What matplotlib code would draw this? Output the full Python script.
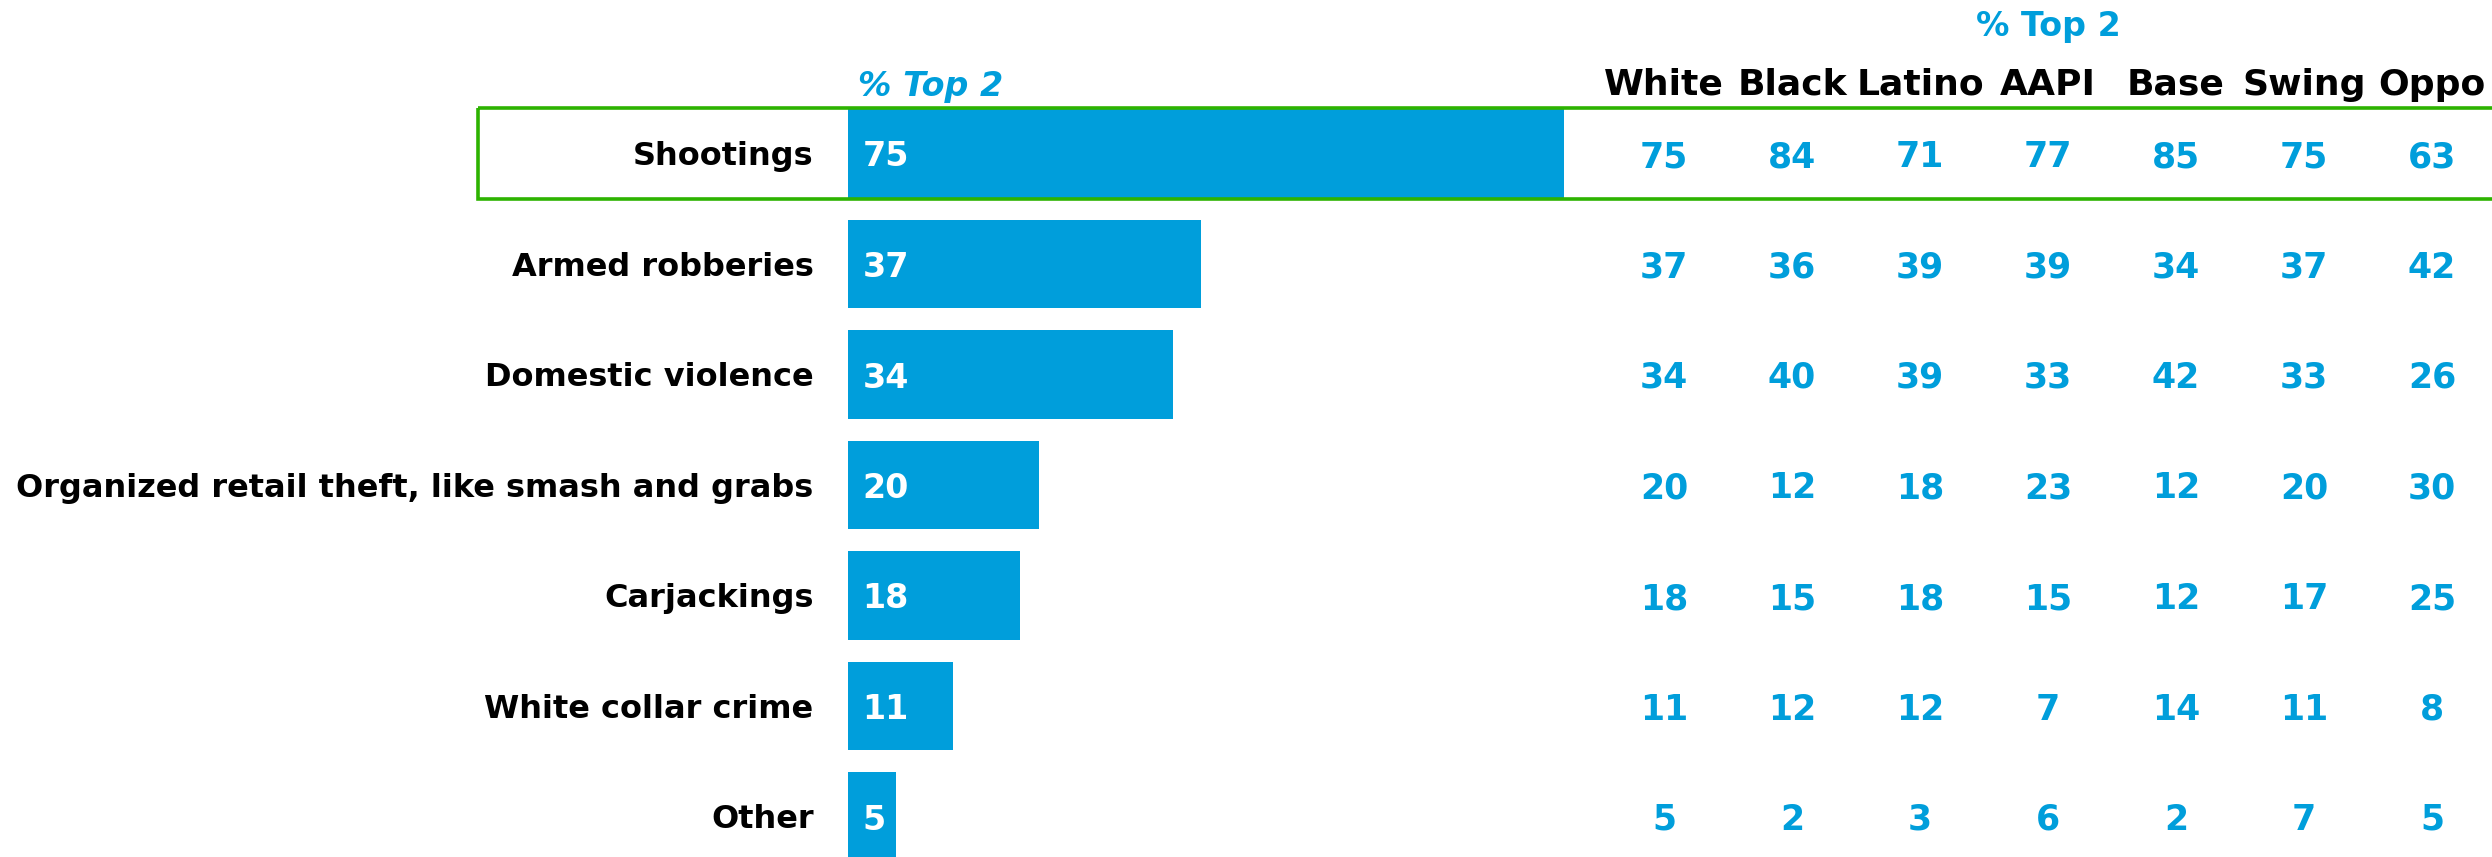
import matplotlib
matplotlib.use("Agg")
import matplotlib.pyplot as plt
import matplotlib.transforms as mtransforms
from matplotlib.patches import Rectangle

# data
categories = ["Shootings", "Armed robberies", "Domestic violence",
              "Organized retail theft, like smash and grabs", "Carjackings",
              "White collar crime", "Other"]
top2 = [75, 37, 34, 20, 18, 11, 5]
groups = ["White", "Black", "Latino", "AAPI", "Base", "Swing", "Oppo"]
white = [75, 37, 34, 20, 18, 11, 5]
black = [84, 36, 40, 12, 15, 12, 2]
latino = [71, 39, 39, 18, 18, 12, 3]
aapi = [77, 39, 33, 23, 15, 7, 6]
base = [85, 34, 42, 12, 12, 14, 2]
swing = [75, 37, 33, 20, 17, 11, 7]
oppo = [63, 42, 26, 30, 25, 8, 5]
table = [white, black, latino, aapi, base, swing, oppo]

BLUE = "#009EDB"
GREEN = "#2DB300"
plt.rcParams["font.family"] = ["DejaVu Sans"]

fig = plt.figure(figsize=(24.92, 8.57), dpi=100)
ax = fig.add_axes([0, 0, 1, 1])
ax.axis("off")

# scale: ~9.55 px per unit, bars start at x=848 px; rows 110.5 px apart
ax.set_xlim(-848 / 9.55, (2492 - 848) / 9.55)
ax.set_ylim((857 - 153.5) / 110.5, -153.5 / 110.5)

rows = list(range(len(categories)))
ax.barh(rows, top2, height=0.805, color=BLUE, left=0)

for i, (cat, v) in enumerate(zip(categories, top2)):
    ax.text(-3.6, i, cat, ha="right", va="center_baseline",
            fontsize=23, fontweight="bold", color="black")
    ax.text(1.5, i, str(v), ha="left", va="center_baseline",
            fontsize=24, fontweight="bold", color="white")

# side table
trans = mtransforms.blended_transform_factory(ax.transAxes, ax.transData)
col_x = [(1664 + 128 * j) / 2492 for j in range(len(groups))]
for j, (g, vals) in enumerate(zip(groups, table)):
    ax.text(col_x[j], -0.53, g, transform=trans, ha="center", va="baseline",
            fontsize=26, fontweight="bold", color="black")
    for i, v in enumerate(vals):
        ax.text(col_x[j], i, str(v), transform=trans, ha="center",
                va="center_baseline", fontsize=25, fontweight="bold", color=BLUE)

ax.text(col_x[3], -1.06, "% Top 2", transform=trans, ha="center", va="baseline",
        fontsize=24, fontweight="bold", color=BLUE)
ax.text(1.0, -0.52, "% Top 2", ha="left", va="baseline",
        fontsize=24, fontweight="bold", style="italic", color=BLUE)

# highlight box round the first row
box = Rectangle((478 / 2492, -0.415), 1.0, 0.83, transform=trans,
                fill=False, edgecolor=GREEN, linewidth=2.6, clip_on=False)
ax.add_patch(box)

fig.savefig("out.png", dpi=100)
